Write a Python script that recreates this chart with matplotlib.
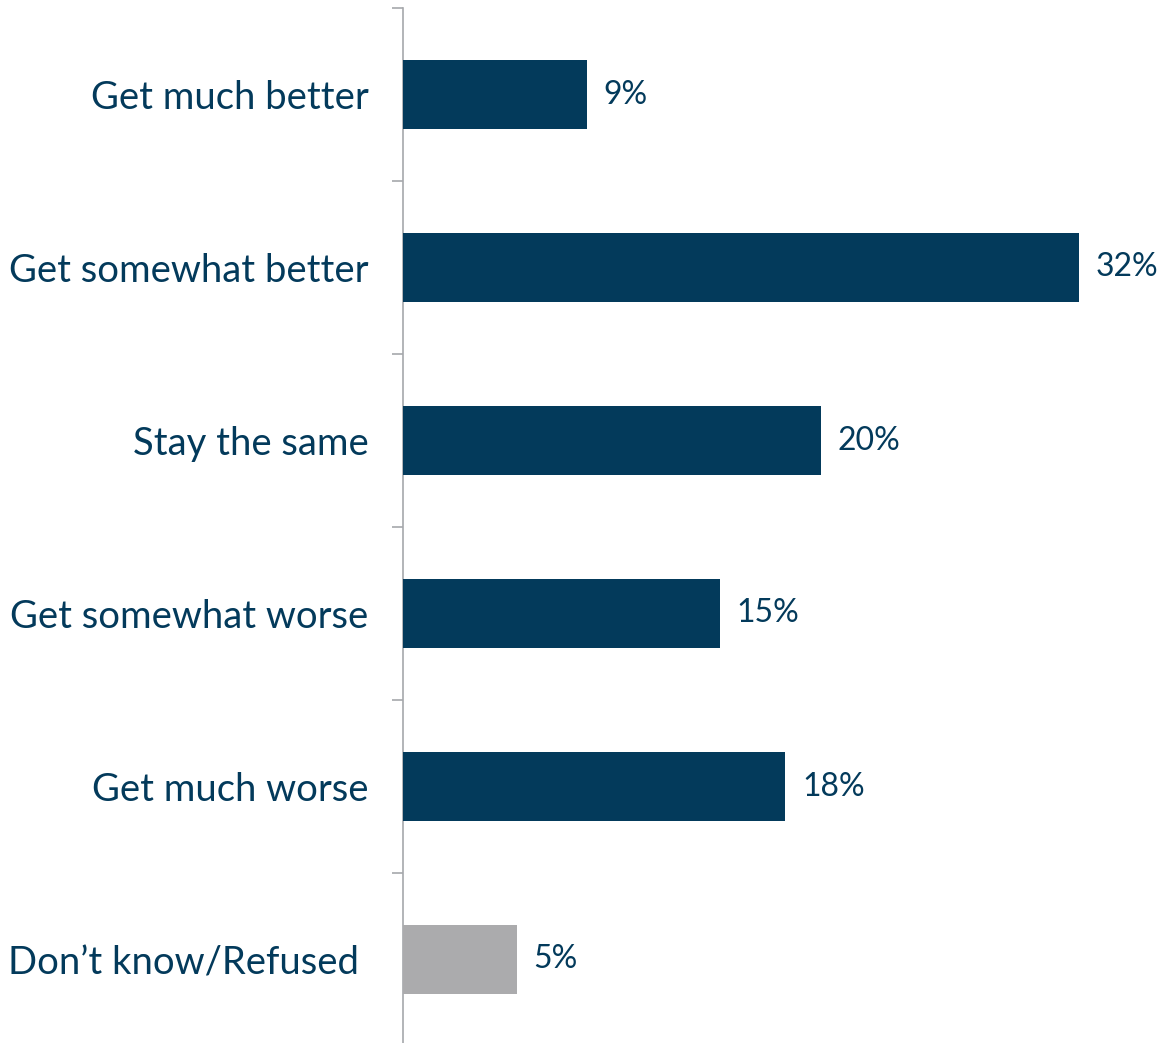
import matplotlib
matplotlib.use("Agg")
import matplotlib.pyplot as plt
import numpy as np

categories = ["Get much better", "Get somewhat better", "Stay the same",
              "Get somewhat worse", "Get much worse", "Don\u2019t know/Refused "]
values = [8.7, 32.0, 19.8, 15.0, 18.1, 5.4]
value_labels = ["9%", "32%", "20%", "15%", "18%", "5%"]
colors = ["#033A5B", "#033A5B", "#033A5B", "#033A5B", "#033A5B", "#ABABAD"]

plt.rcParams['font.family'] = ['Lato', 'DejaVu Sans']
text_color = "#033A5B"

W, H = 1160, 1043
fig = plt.figure(figsize=(W/100, H/100), dpi=100)
ax_left, ax_right = 403, 1160
ax_top, ax_bot = 8, 1046
ax = fig.add_axes([ax_left/W, 1 - ax_bot/H, (ax_right-ax_left)/W, (ax_bot-ax_top)/H])

n = len(categories)
y = np.arange(n)
ax.barh(y, values, height=0.395, color=colors, zorder=3)
ax.set_ylim(n - 0.5, -0.5)
px_per_pct = 676 / 32.0
ax.set_xlim(0, (ax_right - ax_left) / px_per_pct)

for yi, v, lab in zip(y, values, value_labels):
    ax.annotate(lab, (v, yi), xytext=(12, 0), textcoords="offset points",
                va="center", ha="left", fontsize=23, color=text_color)

ax.set_yticks(y)
ax.set_yticklabels(categories, fontsize=27.5, color=text_color)
ax.tick_params(axis="y", which="major", length=0, pad=25)
ax.set_yticks(np.arange(n + 1) - 0.5, minor=True)
ax.tick_params(axis="y", which="minor", length=8, width=1.2, color="#A6A8AC")
ax.set_xticks([])

for s in ["top", "right", "bottom"]:
    ax.spines[s].set_visible(False)
ax.spines["left"].set_color("#A6A8AC")
ax.spines["left"].set_linewidth(1.2)

fig.savefig("out.png", dpi=100)
